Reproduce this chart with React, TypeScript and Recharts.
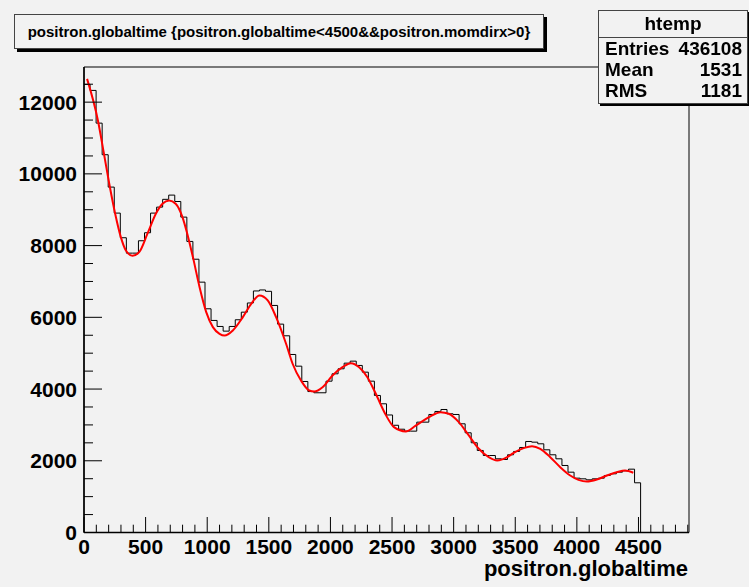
import React from "react";
import { ComposedChart, Line, XAxis, YAxis, ReferenceArea } from "recharts";

// histogram contents, 49.1 wide bins starting at 0
const binWidth = 49.1;
const histCounts = [
  12495, 12327, 11415, 10534, 9631, 8906, 8219, 7790, 7790, 8135,
  8358, 8906, 9073, 9290, 9408, 9230, 8794, 8116, 7620, 6981,
  6238, 5913, 5745, 5615, 5745, 5932, 6144, 6400, 6735, 6763,
  6725, 6331, 5810, 5485, 4964, 4638, 4211, 3930, 3896, 3896,
  4220, 4425, 4565, 4722, 4778, 4658, 4471, 4220, 3821, 3589,
  3277, 2990, 2880, 2826, 2826, 3077, 3077, 3291, 3375, 3430,
  3310, 3291, 3031, 2780, 2502, 2287, 2147, 2147, 2055, 2036,
  2167, 2260, 2371, 2538, 2519, 2473, 2306, 2167, 2055, 1869,
  1682, 1515, 1497, 1469, 1497, 1515, 1590, 1636, 1682, 1720,
  1766, 1386,
];

// red fit curve, sampled by eye
const fitX = [
  25, 113, 162, 205, 253, 299, 340, 394, 448, 515, 583, 637, 691, 744, 799,
  831, 884, 938, 992, 1046, 1100, 1141, 1208, 1289, 1357, 1424, 1491, 1559,
  1640, 1693, 1761, 1828, 1869, 1936, 2017, 2098, 2166, 2233, 2300, 2368,
  2449, 2516, 2611, 2692, 2799, 2894, 2961, 3042, 3123, 3204, 3285, 3353,
  3434, 3487, 3568, 3636, 3703, 3784, 3865, 3946, 4013, 4081, 4162, 4243,
  4324, 4391, 4458,
];
const fitY = [
  12650, 11490, 10560, 9725, 8890, 8236, 7865, 7717, 7818, 8331, 8889, 9167,
  9260, 9167, 8794, 8423, 7678, 6841, 6144, 5726, 5541, 5494, 5634, 6005,
  6378, 6610, 6470, 6005, 5262, 4705, 4239, 3960, 3932, 4052, 4379, 4610,
  4722, 4610, 4331, 3868, 3280, 2937, 2817, 2980, 3216, 3355, 3310, 3077,
  2706, 2334, 2101, 2008, 2101, 2223, 2352, 2408, 2334, 2101, 1822, 1590,
  1469, 1422, 1478, 1590, 1682, 1729, 1665,
];

const xMax = 4910;
const yMax = 12980;
const xTicks = Array.from({ length: 50 }, (_, i) => i * 100);
const yTicks = Array.from({ length: 26 }, (_, i) => i * 500);

const stats = [
  ["Entries", "436108"],
  ["Mean", "1531"],
  ["RMS", "1181"],
];

type Pt = { x: number; h?: number; f?: number };
const rows: Pt[] = [];
histCounts.forEach((v, i) => rows.push({ x: i * binWidth, h: v }));
rows.push({ x: histCounts.length * binWidth, h: 0 });
fitX.forEach((x, i) => rows.push({ x, f: fitY[i] }));
rows.sort((a, b) => a.x - b.x);

const font = "'Liberation Sans', Arial, Helvetica, sans-serif";

const XTick = (props: any) => {
  const { x, y, payload } = props;
  const v = payload.value;
  const major = v % 500 === 0;
  return (
    <g>
      <line x1={x} x2={x} y1={y} y2={y - (major ? 15.5 : 7.8)} stroke="#000" />
      {major && v <= 4500 && (
        <text x={x} y={y + 21.5} textAnchor="middle" fontSize={21} fontWeight="bold" fontFamily={font} fill="#000">
          {v}
        </text>
      )}
    </g>
  );
};

const YTick = (props: any) => {
  const { x, y, payload } = props;
  const v = payload.value;
  const major = v % 2000 === 0;
  return (
    <g>
      <line x1={x} x2={x + (major ? 18 : 9)} y1={y} y2={y} stroke="#000" />
      {major && (
        <text x={x - 7} y={y + 7.5} textAnchor="end" fontSize={21} fontWeight="bold" fontFamily={font} fill="#000">
          {v}
        </text>
      )}
    </g>
  );
};

export default function App() {
  return (
    <div style={{ position: "fixed", left: 0, top: 0, width: 749, height: 587, background: "#f2f2f2", fontFamily: font }}>
      <ComposedChart
        width={749}
        height={587}
        data={rows}
        margin={{ top: 67, right: 60, bottom: 34.5, left: 64 }}
      >
        <XAxis
          type="number"
          dataKey="x"
          domain={[0, xMax]}
          ticks={xTicks}
          interval={0}
          height={20}
          tickSize={0}
          tickMargin={0}
          tick={<XTick />}
          axisLine={{ stroke: "#000", strokeWidth: 1.5 }}
          tickLine={false}
        />
        <YAxis
          type="number"
          domain={[0, yMax]}
          ticks={yTicks}
          interval={0}
          width={20}
          tickSize={0}
          tickMargin={0}
          tick={<YTick />}
          axisLine={{ stroke: "#000", strokeWidth: 1.5 }}
          tickLine={false}
        />
        <ReferenceArea x1={0} x2={xMax} y1={0} y2={yMax} fill="none" stroke="#000" strokeWidth={1} ifOverflow="visible" />
        <Line
          dataKey="h"
          type="stepAfter"
          stroke="#000"
          strokeWidth={1}
          dot={false}
          connectNulls
          isAnimationActive={false}
        />
        <Line
          dataKey="f"
          type="monotone"
          stroke="#ff0000"
          strokeWidth={2}
          dot={false}
          connectNulls
          isAnimationActive={false}
        />
      </ComposedChart>

      <div
        style={{
          position: "absolute", left: 14, top: 14, width: 528, height: 33,
          border: "1px solid #444", background: "#f2f2f2", boxShadow: "3px 3px 0 #000",
          fontSize: 15, fontWeight: "bold", lineHeight: "33px", textAlign: "center", whiteSpace: "nowrap",
        }}
      >
        positron.globaltime {"{positron.globaltime<4500&&positron.momdirx>0}"}
      </div>

      <div
        style={{
          position: "absolute", left: 598, top: 10, width: 148, height: 92,
          border: "1px solid #444", background: "#f2f2f2", boxShadow: "2px 2px 0 #000",
          fontWeight: "bold", fontSize: 19,
        }}
      >
        <div style={{ height: 26, lineHeight: "25px", textAlign: "center", borderBottom: "1px solid #444" }}>htemp</div>
        {stats.map(([k, v], i) => (
          <div
            key={k}
            style={{
              position: "absolute", left: 6, right: 5, top: 27 + i * 21.2, height: 21,
              lineHeight: "21px", display: "flex", justifyContent: "space-between",
            }}
          >
            <span>{k}</span>
            <span>{v}</span>
          </div>
        ))}
      </div>

      <div
        style={{
          position: "absolute", right: 749 - 688, top: 558, fontSize: 22, fontWeight: "bold",
          lineHeight: "22px", whiteSpace: "nowrap",
        }}
      >
        positron.globaltime
      </div>
    </div>
  );
}
